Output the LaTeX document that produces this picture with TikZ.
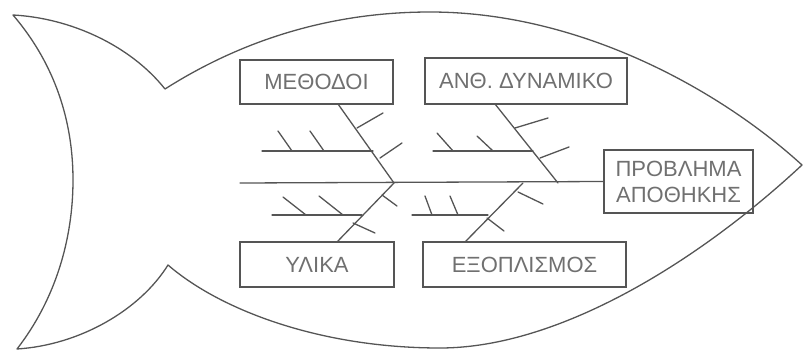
\documentclass[tikz,border=0pt]{standalone}
\usepackage{fontspec}
\setmainfont{Liberation Sans}
\definecolor{lc}{HTML}{555555}
\definecolor{tc}{HTML}{707070}
\begin{document}
\begin{tikzpicture}[x=1pt,y=-1pt,
  line/.style={draw=lc,line width=1.3pt,line cap=round,line join=round},
  cat/.style={draw=lc,line width=1.3pt,inner sep=0pt,text=tc,font=\fontsize{22}{26}\selectfont,align=center}]
\useasboundingbox (0,0) rectangle (804,351);
% fish outline
\draw[line] (165,89) .. controls (250,35) and (340,12) .. (430,12)
 .. controls (580,12) and (720,90) .. (802,165)
 .. controls (700,260) and (560,348) .. (440,348)
 .. controls (320,348) and (220,310) .. (168,265)
 .. controls (140,310) and (80,345) .. (17,349)
 .. controls (55,300) and (73,240) .. (73,180)
 .. controls (73,130) and (60,70) .. (13,15)
 .. controls (70,18) and (130,45) .. (165,89) -- cycle;
% boxes
\node[cat,minimum width=153pt,minimum height=44pt] (met) at (316.5,82) {ΜΕΘΟΔΟΙ};
\node[cat,minimum width=202pt,minimum height=46pt] (anth) at (526,81) {ΑΝΘ. ΔΥΝΑΜΙΚΟ};
\node[cat,minimum width=149pt,minimum height=63pt] (prob) at (678.5,181.5) {ΠΡΟΒΛΗΜΑ\\ΑΠΟΘΗΚΗΣ};
\node[cat,minimum width=154pt,minimum height=45pt] (yl) at (317,264.5) {ΥΛΙΚΑ};
\node[cat,minimum width=203pt,minimum height=45pt] (exo) at (524.5,264.5) {ΕΞΟΠΛΙΣΜΟΣ};
% spine
\coordinate (tail) at (240,183);
\coordinate (j1) at (394,183);
\coordinate (j2) at (558,183);
\coordinate (j3) at (394,183);
\coordinate (j4) at (523,183);
\coordinate (b1) at (338,104);
\coordinate (b2) at (495,104);
\coordinate (b3) at (337,242);
\coordinate (b4) at (465,242);
\draw[line] (tail) -- (prob.west);
\draw[line] (b1) -- (j1);
\draw[line] (b2) -- (j2);
\draw[line] (b3) -- (j3);
\draw[line] (b4) -- (j4);
% sub-bones
\draw[line] (262,151) -- (373,151);
\draw[line] (433,151) -- (533,151);
\draw[line] (272,215) -- (362,215);
\draw[line] (412,215) -- (488,215);
% ticks upper left
\draw[line] (278,131) -- (292,151);
\draw[line] (310,131) -- (324,151);
\draw[line] (357,128) -- (383,113);
\draw[line] (380,158) -- (402,143);
% ticks upper right
\draw[line] (437,133) -- (453,151);
\draw[line] (477,136) -- (493,151);
\draw[line] (515,128) -- (548,118);
\draw[line] (540,158) -- (569,147);
% ticks lower left
\draw[line] (283,197) -- (306,215);
\draw[line] (319,196) -- (343,215);
\draw[line] (382,195) -- (397,206);
\draw[line] (353,223) -- (375,233);
% ticks lower right
\draw[line] (425,196) -- (432,215);
\draw[line] (450,196) -- (458,215);
\draw[line] (518,192) -- (543,204);
\draw[line] (487,218) -- (504,231);
\end{tikzpicture}
\end{document}
